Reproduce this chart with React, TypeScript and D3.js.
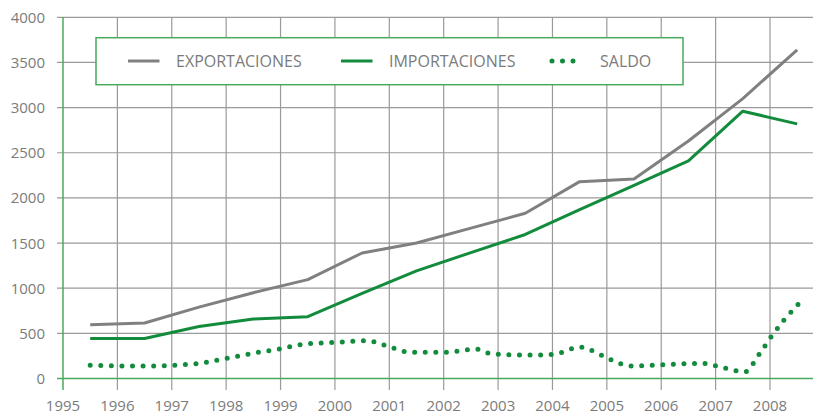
import React, { useEffect, useRef } from 'react'
import * as d3 from 'd3'

// annual values, plotted at mid-year
const years = [1995.5, 1996.5, 1997.5, 1998.5, 1999.5, 2000.5, 2001.5, 2002.5, 2003.5, 2004.5, 2005.5, 2006.5, 2007.5, 2008.5]
const exportaciones = [594, 615, 790, 950, 1095, 1390, 1500, 1665, 1830, 2180, 2210, 2630, 3100, 3640]
const importaciones = [442, 442, 575, 658, 685, 943, 1192, 1394, 1595, 1869, 2139, 2410, 2960, 2820]

// saldo curve, read point by point
const saldoYears = [1995.5, 1996.5, 1997.5, 1997.9, 1998.5, 1999.0, 1999.45, 2000.0, 2000.6, 2001.0, 2001.4, 2002.0, 2002.6, 2002.9, 2003.75, 2004.1, 2004.5, 2004.9, 2005.2, 2005.45, 2006.2, 2006.75, 2007.15, 2007.53, 2007.8, 2008.02, 2008.26, 2008.52]
const saldo = [146, 138, 167, 212, 280, 330, 381, 400, 418, 351, 290, 290, 325, 270, 259, 278, 348, 259, 175, 138, 157, 167, 119, 72, 267, 461, 649, 822]

const yTicks = [0, 500, 1000, 1500, 2000, 2500, 3000, 3500, 4000]
const xTicks = [1995, 1996, 1997, 1998, 1999, 2000, 2001, 2002, 2003, 2004, 2005, 2006, 2007, 2008]

const App = () => {
  const svgRef = useRef<SVGSVGElement>(null)

  useEffect(() => {
    const width = 813
    const height = 413
    const gray = '#808080'
    const green = '#128c3c'
    const axisGreen = '#4aaa5c'
    const gridColor = '#9a9a9a'
    const textColor = '#7b7b7b'
    const font = '"Open Sans", sans-serif'

    const svg = d3.select(svgRef.current)
    svg.selectAll('*').remove()
    svg.attr('width', width).attr('height', height)

    const x = d3.scaleLinear().domain([1995, 2008]).range([63, 770])
    const y = d3.scaleLinear().domain([0, 4000]).range([378.5, 17.3])

    const grid = svg.append('g')
    grid.selectAll('line.h')
      .data(yTicks.filter((d) => d > 0))
      .enter()
      .append('line')
      .attr('x1', 57)
      .attr('x2', width)
      .attr('y1', (d) => y(d))
      .attr('y2', (d) => y(d))
      .attr('stroke', gridColor)
      .attr('stroke-width', 1.2)
    grid.selectAll('line.v')
      .data(xTicks.filter((d) => d > 1995))
      .enter()
      .append('line')
      .attr('x1', (d) => x(d))
      .attr('x2', (d) => x(d))
      .attr('y1', y(4000))
      .attr('y2', 390)
      .attr('stroke', gridColor)
      .attr('stroke-width', 1.2)

    // axes in green
    svg.append('line')
      .attr('x1', x(1995)).attr('x2', x(1995))
      .attr('y1', y(4000)).attr('y2', 390)
      .attr('stroke', axisGreen).attr('stroke-width', 1.5)
    svg.append('line')
      .attr('x1', 57).attr('x2', width)
      .attr('y1', y(0)).attr('y2', y(0))
      .attr('stroke', axisGreen).attr('stroke-width', 1.5)

    svg.append('g')
      .selectAll('text')
      .data(yTicks)
      .enter()
      .append('text')
      .attr('x', 45)
      .attr('y', (d) => y(d) + 5.5)
      .attr('text-anchor', 'end')
      .style('font-family', font)
      .style('font-size', '15px')
      .style('fill', textColor)
      .text((d) => d)

    svg.append('g')
      .selectAll('text')
      .data(xTicks)
      .enter()
      .append('text')
      .attr('x', (d) => x(d))
      .attr('y', 410.5)
      .attr('text-anchor', 'middle')
      .style('font-family', font)
      .style('font-size', '15px')
      .style('fill', textColor)
      .text((d) => d)

    const line = d3.line<number>()
      .x((_, i) => x(years[i]))
      .y((d) => y(d))

    svg.append('path')
      .attr('d', line(exportaciones))
      .attr('fill', 'none')
      .attr('stroke', gray)
      .attr('stroke-width', 3)
      .attr('stroke-linejoin', 'round')

    svg.append('path')
      .attr('d', line(importaciones))
      .attr('fill', 'none')
      .attr('stroke', green)
      .attr('stroke-width', 3)
      .attr('stroke-linejoin', 'round')

    const saldoLine = d3.line<number>()
      .x((_, i) => x(saldoYears[i]))
      .y((d) => y(d))
      .curve(d3.curveMonotoneX)

    const saldoPath = svg.append('path')
      .attr('d', saldoLine(saldo))
      .attr('fill', 'none')
      .attr('stroke', green)
      .attr('stroke-width', 5)
      .attr('stroke-linecap', 'round')
    // make the dots land on both ends of the curve
    const len = (saldoPath.node() as SVGPathElement).getTotalLength()
    const gap = len / Math.round(len / 10.6) - 0.01
    saldoPath.attr('stroke-dasharray', `0 ${gap}`)

    // legend
    const legend = svg.append('g')
    legend.append('rect')
      .attr('x', 96)
      .attr('y', 37.7)
      .attr('width', 587)
      .attr('height', 47)
      .attr('fill', '#fff')
      .attr('stroke', axisGreen)
      .attr('stroke-width', 1.5)

    const items = [
      { label: 'EXPORTACIONES', color: gray, x0: 128, tx: 176, dots: false },
      { label: 'IMPORTACIONES', color: green, x0: 341, tx: 389, dots: false },
      { label: 'SALDO', color: green, x0: 552, tx: 600, dots: true },
    ]
    items.forEach((it) => {
      legend.append('line')
        .attr('x1', it.x0)
        .attr('x2', it.x0 + 31.5)
        .attr('y1', 61)
        .attr('y2', 61)
        .attr('stroke', it.color)
        .attr('stroke-width', it.dots ? 5 : 3)
        .attr('stroke-linecap', it.dots ? 'round' : 'butt')
        .attr('stroke-dasharray', it.dots ? '0 10.5' : null)
      legend.append('text')
        .attr('x', it.tx)
        .attr('y', 66.8)
        .style('font-family', font)
        .style('font-size', '16px')
        .style('fill', textColor)
        .text(it.label)
    })
  }, [])

  return (
    <div style={{ position: 'absolute', top: 0, left: 0, background: '#fff' }}>
      <svg ref={svgRef} style={{ display: 'block' }}></svg>
    </div>
  )
}

export default App
